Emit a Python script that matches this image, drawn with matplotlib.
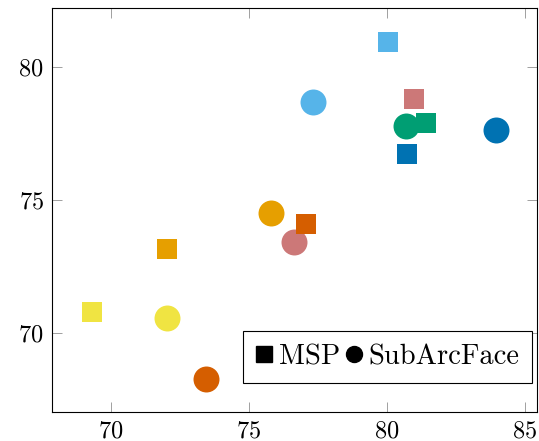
import matplotlib
matplotlib.use("Agg")
import matplotlib.pyplot as plt
from matplotlib.lines import Line2D

plt.rcParams['font.family'] = ['cmr10', 'DejaVu Serif']
plt.rcParams['axes.formatter.use_mathtext'] = True
plt.rcParams['mathtext.fontset'] = 'cm'

colors = ['#0072b2', '#e69f00', '#009e73', '#d55e00', '#cc7878', '#56b4e9', '#f0e442']
msp_x = [80.74, 72.04, 81.44, 77.07, 80.98, 80.04, 69.31]
msp_y = [76.73, 73.17, 77.89, 74.10, 78.81, 80.95, 70.79]
arc_x = [83.97, 75.80, 80.71, 73.43, 76.64, 77.33, 72.04]
arc_y = [77.63, 74.51, 77.79, 68.27, 73.41, 78.70, 70.55]
xticks = [70, 75, 80, 85]
yticks = [70, 75, 80]

fig = plt.figure(figsize=(5.39, 4.41), dpi=100)
ax = fig.add_axes([0.0965, 0.0658, 0.8998, 0.9161])

for c, x, y in zip(colors, arc_x, arc_y):
    ax.plot([x], [y], marker='o', markersize=18.7, color=c, markeredgewidth=0, linestyle='none')
for c, x, y in zip(colors, msp_x, msp_y):
    ax.plot([x], [y], marker='s', markersize=15, color=c, markeredgewidth=0, linestyle='none')

ax.set_xlim(67.86, 85.45)
ax.set_ylim(67.03, 82.22)
ax.set_xticks(xticks)
ax.set_yticks(yticks)
ax.tick_params(direction='in', length=7.2, width=0.7, color='#a0a0a0',
               top=True, right=True, labelsize=17.5, pad=6)
for s in ax.spines.values():
    s.set_linewidth(0.8)
    s.set_color('black')

handles = [Line2D([], [], marker='s', color='black', markersize=11, linestyle='none'),
           Line2D([], [], marker='o', color='black', markersize=11.5, linestyle='none')]
leg = ax.legend(handles, ['MSP', 'SubArcFace'], ncol=2, loc='lower right',
                bbox_to_anchor=(0.99, 0.072), fontsize=20.5, frameon=True, fancybox=False,
                framealpha=1, edgecolor='black', handlelength=0.6, handletextpad=0.2,
                columnspacing=0.2, borderpad=0.45, borderaxespad=0)
leg.get_frame().set_linewidth(0.8)

fig.savefig('out.png', dpi=100)
